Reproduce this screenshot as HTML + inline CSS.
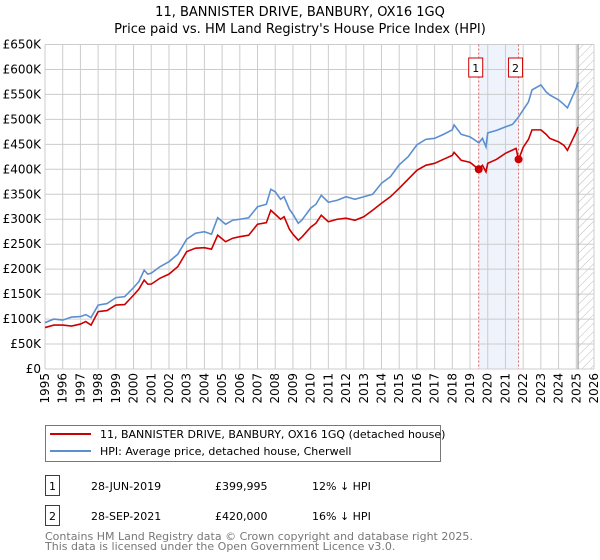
<!DOCTYPE html>
<html><head><meta charset="utf-8"><style>
body{margin:0;background:#fff;}
svg{display:block;font-family:"DejaVu Sans","Liberation Sans",sans-serif;}
</style></head><body>
<svg id="chart" width="600" height="560" viewBox="0 0 600 560" xmlns="http://www.w3.org/2000/svg">
<text x="300" y="16" text-anchor="middle" font-size="13">11, BANNISTER DRIVE, BANBURY, OX16 1GQ</text>
<text x="300" y="33" text-anchor="middle" font-size="13">Price paid vs. HM Land Registry's House Price Index (HPI)</text>
<defs><pattern id="hatch" width="6" height="6" patternUnits="userSpaceOnUse" patternTransform="rotate(45)"><line x1="0" y1="0" x2="0" y2="6" stroke="#bbb" stroke-width="1"/></pattern></defs>
<g id="grid"></g><g id="marks"></g><g id="axes"></g>
<g>
<rect x="45.5" y="425.5" width="395" height="36" fill="#fff" stroke="#777"/>
<line x1="50" y1="434" x2="91" y2="434" stroke="#cc0000" stroke-width="2"/>
<text x="100" y="438" font-size="11">11, BANNISTER DRIVE, BANBURY, OX16 1GQ (detached house)</text>
<line x1="50" y1="451" x2="91" y2="451" stroke="#5b8fd0" stroke-width="2"/>
<text x="100" y="455" font-size="11">HPI: Average price, detached house, Cherwell</text>
</g>
<g font-size="11">
<rect x="45.5" y="475.5" width="14" height="20" fill="#fff" stroke="#cc0000"/><text x="52.5" y="490" text-anchor="middle">1</text>
<text x="91" y="490">28-JUN-2019</text><text x="215" y="490">£399,995</text><text x="312" y="490">12% ↓ HPI</text>
<rect x="45.5" y="505.5" width="14" height="20" fill="#fff" stroke="#cc0000"/><text x="52.5" y="520" text-anchor="middle">2</text>
<text x="91" y="520">28-SEP-2021</text><text x="215" y="520">£420,000</text><text x="312" y="520">16% ↓ HPI</text>
</g>
<text x="45" y="540" font-size="11" fill="#777">Contains HM Land Registry data © Crown copyright and database right 2025.</text>
<text x="45" y="550" font-size="11" fill="#777">This data is licensed under the Open Government Licence v3.0.</text>
</svg>
<script>
const hpiYears=[1995,1995.5,1996,1996.5,1997,1997.3,1997.6,1998,1998.5,1999,1999.5,2000,2000.3,2000.6,2000.8,2001,2001.5,2002,2002.5,2003,2003.5,2004,2004.4,2004.75,2005.2,2005.6,2006,2006.5,2007,2007.5,2007.75,2008,2008.3,2008.5,2008.8,2009,2009.3,2009.5,2010,2010.3,2010.6,2011,2011.5,2012,2012.5,2013,2013.5,2014,2014.5,2015,2015.5,2016,2016.5,2017,2017.5,2018,2018.1,2018.5,2019,2019.5,2019.7,2019.9,2020,2020.5,2021,2021.4,2021.7,2022,2022.3,2022.5,2023,2023.3,2023.5,2024,2024.3,2024.5,2025,2025.1];
const hpiValues=[93,100,98,104,105,109,103,128,131,143,145,163,175,198,190,192,205,215,230,260,272,275,270,303,290,298,300,303,325,330,360,355,340,345,320,310,292,298,322,330,348,334,338,345,340,345,350,372,385,409,425,449,460,462,470,479,489,470,465,453,462,445,473,478,485,490,503,519,535,559,569,555,549,539,530,523,563,575,569];
const ppYears=[1995,1995.5,1996,1996.5,1997,1997.3,1997.6,1998,1998.5,1999,1999.5,2000,2000.3,2000.6,2000.8,2001,2001.5,2002,2002.5,2003,2003.5,2004,2004.4,2004.75,2005.2,2005.6,2006,2006.5,2007,2007.5,2007.75,2008,2008.3,2008.5,2008.8,2009,2009.3,2009.5,2010,2010.3,2010.6,2011,2011.5,2012,2012.5,2013,2013.5,2014,2014.5,2015,2015.5,2016,2016.5,2017,2017.5,2018,2018.1,2018.5,2019,2019.49,2019.7,2019.9,2020,2020.5,2021,2021.6,2021.74,2022,2022.3,2022.5,2023,2023.3,2023.5,2024,2024.3,2024.5,2025,2025.1];
const ppValues=[83,88,88,86,90,95,88,115,117,128,129,148,160,178,170,170,182,190,205,235,242,243,240,268,255,262,265,268,290,293,318,310,300,305,280,270,258,264,284,292,308,295,300,302,298,305,318,332,345,362,380,398,408,412,420,428,434,418,414,400,408,395,412,420,432,442,419,444,460,479,479,470,462,455,448,438,475,485,478];
const saleYears=[2019.49,2021.74];
const saleValues=[399.995,420];
const yTicks=[0,50,100,150,200,250,300,350,400,450,500,550,600,650];
const yTickLabels=["£0","£50K","£100K","£150K","£200K","£250K","£300K","£350K","£400K","£450K","£500K","£550K","£600K","£650K"];
const xTicks=[1995,1996,1997,1998,1999,2000,2001,2002,2003,2004,2005,2006,2007,2008,2009,2010,2011,2012,2013,2014,2015,2016,2017,2018,2019,2020,2021,2022,2023,2024,2025,2026];
const dataEnd=2025.1;

const NS="http://www.w3.org/2000/svg";
const X0=45,X1=594,Y0=369,Y1=44.5;
const xs=y=>X0+(y-1995)/(2026-1995)*(X1-X0);
const ys=v=>Y0-v/650*(Y0-Y1);
function mk(tag,attrs,parent){const e=document.createElementNS(NS,tag);for(const k in attrs)e.setAttribute(k,attrs[k]);parent.appendChild(e);return e;}
const grid=document.getElementById('grid'),marks=document.getElementById('marks'),axes=document.getElementById('axes');

const band=mk('rect',{x:xs(saleYears[0]),y:Y1,width:xs(saleYears[1])-xs(saleYears[0]),height:Y0-Y1,fill:'#eef3fc'},grid);


const hat=mk('rect',{x:xs(dataEnd),y:Y1,width:X1-xs(dataEnd),height:Y0-Y1,fill:'url(#hatch)'},grid);



yTicks.forEach((v,i)=>{
  const l=mk('line',{x1:X0,x2:X1,y1:ys(v),y2:ys(v),stroke:'#ccc','stroke-width':1},grid);
  
  
  const t=mk('text',{x:X0-4,y:ys(v)+4,'text-anchor':'end','font-size':12},axes);
  t.textContent=yTickLabels[i];
  
  
});
xTicks.forEach(y=>{
  const l=mk('line',{x1:xs(y),x2:xs(y),y1:Y1,y2:Y0,stroke:'#ccc','stroke-width':1},grid);
  
  
  const t=mk('text',{x:0,y:0,'text-anchor':'end','font-size':12,transform:`translate(${xs(y)+4},${Y0+4}) rotate(-90)`},axes);
  t.textContent=String(y);
  
  
});
const endLine=mk('line',{x1:xs(dataEnd),x2:xs(dataEnd),y1:Y1,y2:Y0,stroke:'#888','stroke-width':1},grid);



saleYears.forEach((y,i)=>{
  const l=mk('line',{x1:xs(y),x2:xs(y),y1:Y1,y2:Y0,stroke:'#e06666','stroke-width':1,'stroke-dasharray':'2,2'},marks);
  
  
  const r=mk('rect',{x:xs(y)-10,y:58,width:14,height:19,fill:'#fff',stroke:'#cc0000'},marks);
  r.setAttribute('x',xs(y)-10+ (i===0?-0:0));
  
  
  const t=mk('text',{x:xs(y)-3,y:72,'text-anchor':'middle','font-size':11},marks);
  t.textContent=String(i+1);
  
  
});

const hp=mk('polyline',{points:hpiYears.map((y,i)=>xs(y)+','+ys(hpiValues[i])).join(' '),fill:'none',stroke:'#5b8fd0','stroke-width':1.6},marks);


const pp=mk('polyline',{points:ppYears.map((y,i)=>xs(y)+','+ys(ppValues[i])).join(' '),fill:'none',stroke:'#cc0000','stroke-width':1.6},marks);


saleYears.forEach((y,i)=>{
  const c=mk('circle',{cx:xs(y),cy:ys(saleValues[i]),r:4,fill:'#cc0000'},marks);
  
  
});
</script>
</body></html>
